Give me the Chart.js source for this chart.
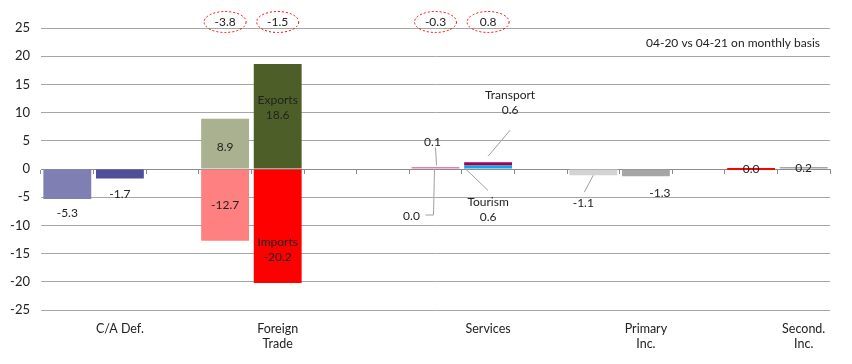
<!DOCTYPE html>
<html>
<head>
<meta charset="utf-8">
<script src="https://cdn.jsdelivr.net/npm/chart.js@4/dist/chart.umd.min.js"></script>
<style>
  html, body { margin: 0; padding: 0; background: #fff; }
  #wrap { width: 852px; height: 364px; }
</style>
</head>
<body>
<div id="wrap"><canvas id="chart"></canvas></div>
<script>
// one slot per bar, empty slots are the gaps between groups
var slotLabels = ['', 'C/A Def.', '', '', ['Foreign', 'Trade'], '', '', '', 'Services', '', '', ['Primary', 'Inc.'], '', '', ['Second.', 'Inc.']];
// lower layer of each bar (exports, tourism...)
var baseValues = [-5.3, -1.7, null, 8.9, 18.6, null, null, 0.1, 0.6, null, -1.1, -1.3, null, 0.0, 0.2];
var baseNames  = ['', '', '', '', 'Exports', '', '', '', 'Tourism', '', '', '', '', '', ''];
// upper layer (imports, transport)
var topValues  = [null, null, null, -12.7, -20.2, null, null, 0.0, 0.6, null, null, null, null, null, null];
var topNames   = ['', '', '', '', 'Imports', '', '', '', 'Transport', '', '', '', '', '', ''];
// circled numbers above the bars
var changeValues = [null, null, null, -3.8, -1.5, null, null, -0.3, 0.8, null, null, null, null, null, null];
var noteText = '04-20 vs 04-21 on monthly basis';

var baseColors = ['#7f7fb3', '#4f4f98', null, '#a9b190', '#4d5e29', null, null, '#e57cb5', '#10a8e2', null, '#d3d3d3', '#a6a6a6', null, '#ff0000', '#a6a6a6'];
var topColors  = [null, null, null, '#ff8080', '#ff0000', null, null, '#e57cb5', '#a0005e', null, null, null, null, null, null];

var FONT = 'Lato, "Noto Sans", sans-serif';
var TEXT = '#222';
var GRID = '#a6a6a6';

// where each value label goes: ref = end | mid | base, offsets in px, optional leader line
var labelPlace = {
  0: {
    0: {ref: 'end', dx: 0, dy: 14},
    1: {ref: 'end', dx: 0, dy: 16},
    3: {ref: 'mid', dx: 0, dy: 3},
    4: {ref: 'end', dx: 0, dy: 44},
    7: {ref: 'base', dx: -3, dy: -26, leader: [[0, -21], [1, -3]]},
    8: {ref: 'base', dx: 0, dy: 41, leader: [[-24, -1], [0, 22]]},
    10: {ref: 'end', dx: -10, dy: 28, leader: [[0, 0], [-9, 17]]},
    11: {ref: 'end', dx: 14, dy: 17},
    13: {ref: 'base', dx: 0, dy: 1},
    14: {ref: 'base', dx: 0, dy: 0}
  },
  1: {
    3: {ref: 'mid', dx: 0, dy: 0},
    4: {ref: 'end', dx: 0, dy: -33},
    7: {ref: 'base', dx: -24, dy: 49, leader: [[-1, 2], [-2, 48], [-10, 48]]},
    8: {ref: 'end', dx: 22, dy: -60, leader: [[22, -32], [0, -6]]}
  }
};

var labelPlugin = {
  id: 'valueLabels',
  afterDatasetsDraw: function(chart) {
    var ctx = chart.ctx;
    var names = [baseNames, topNames];
    ctx.save();
    ctx.font = '12px ' + FONT;
    ctx.fillStyle = TEXT;
    ctx.textAlign = 'center';
    ctx.textBaseline = 'middle';
    chart.data.datasets.forEach(function(ds, di) {
      var meta = chart.getDatasetMeta(di);
      meta.data.forEach(function(el, i) {
        var v = ds.data[i];
        var p = labelPlace[di] && labelPlace[di][i];
        if (v === null || !p) return;
        var ry = p.ref === 'end' ? el.y : (p.ref === 'mid' ? (el.y + el.base) / 2 : el.base);
        if (p.leader) {
          ctx.strokeStyle = '#a0a0a0';
          ctx.lineWidth = 1;
          ctx.beginPath();
          p.leader.forEach(function(pt, k) {
            var lx = el.x + pt[0], ly = ry + pt[1];
            if (k === 0) ctx.moveTo(lx, ly); else ctx.lineTo(lx, ly);
          });
          ctx.stroke();
        }
        var lines = [];
        if (names[di][i]) lines.push(names[di][i]);
        lines.push(v.toFixed(1));
        var x = el.x + p.dx, y = ry + p.dy - (lines.length - 1) * 7.5;
        lines.forEach(function(t, k) { ctx.fillText(t, x, y + k * 15); });
      });
    });
    ctx.restore();
  }
};

var decorPlugin = {
  id: 'decor',
  afterDraw: function(chart) {
    var ctx = chart.ctx, area = chart.chartArea, xs = chart.scales.x;
    ctx.save();
    ctx.font = '12px ' + FONT;
    ctx.fillStyle = TEXT;
    ctx.textBaseline = 'middle';
    ctx.textAlign = 'right';
    ctx.fillText(noteText, area.right - 10, area.top + 15);
    ctx.textAlign = 'center';
    changeValues.forEach(function(v, i) {
      if (v === null) return;
      var cx = xs.getPixelForValue(i), cy = area.top - 6;
      ctx.strokeStyle = '#ff0000';
      ctx.lineWidth = 1;
      ctx.setLineDash([2, 2]);
      ctx.beginPath();
      ctx.ellipse(cx, cy, 21, 10.5, 0, 0, Math.PI * 2);
      ctx.stroke();
      ctx.setLineDash([]);
      ctx.fillText(v.toFixed(1), cx, cy);
    });
    ctx.restore();
  }
};

new Chart(document.getElementById('chart'), {
  type: 'bar',
  data: {
    labels: slotLabels,
    datasets: [
      {label: 'base', data: baseValues, backgroundColor: baseColors, minBarLength: 2},
      {label: 'top', data: topValues, backgroundColor: topColors}
    ]
  },
  options: {
    responsive: true,
    maintainAspectRatio: false,
    animation: false,
    categoryPercentage: 1,
    barPercentage: 0.91,
    layout: {padding: {top: 28, right: 22, left: 8, bottom: 0}},
    plugins: {legend: {display: false}, tooltip: {enabled: false}},
    scales: {
      x: {
        stacked: true,
        grid: {display: false},
        border: {display: false},
        ticks: {font: {family: FONT, size: 12.5}, color: TEXT, maxRotation: 0, autoSkip: false, padding: 3},
        afterFit: function(s) { s.height = 54; }
      },
      zero: {
        axis: 'x',
        type: 'category',
        position: {y: 0},
        offset: true,
        grid: {drawOnChartArea: false, drawTicks: true, tickLength: 4, color: '#8c8c8c', offset: true},
        border: {display: true, color: '#8c8c8c'},
        ticks: {display: false}
      },
      y: {
        stacked: true,
        min: -25,
        max: 25,
        ticks: {stepSize: 5, padding: 11, font: {family: FONT, size: 13}, color: TEXT},
        grid: {color: GRID, drawTicks: false},
        border: {display: false},
        afterFit: function(s) { s.width = 33; }
      }
    }
  },
  plugins: [labelPlugin, decorPlugin]
});
</script>
</body>
</html>
